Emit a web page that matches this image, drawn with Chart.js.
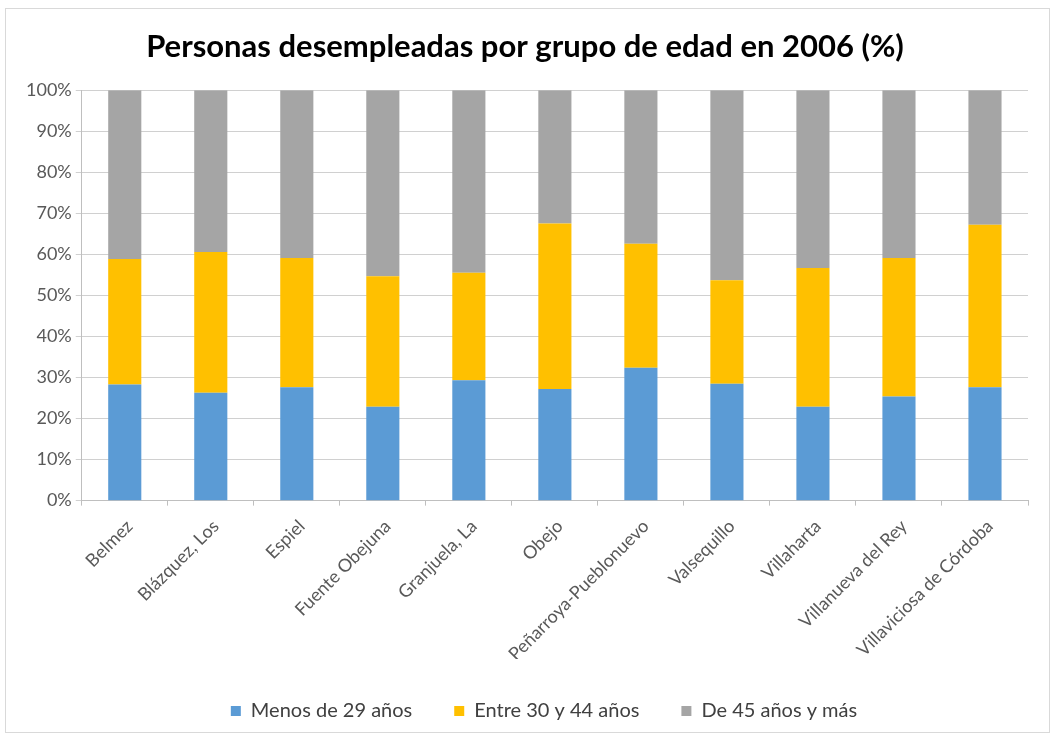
<!DOCTYPE html>
<html lang="es">
  <head>
    <meta charset="UTF-8" />
    <title>Personas desempleadas por grupo de edad en 2006</title>
  </head>
  <style>
    * {
      margin: 0;
      padding: 0;
    }
    body {
      background: white;
      width: 1057px;
      height: 737px;
      overflow: hidden;
    }
    .chartBox {
      position: absolute;
      left: 5px;
      top: 8px;
      width: 1043px;
      height: 723px;
      border: solid 1px #d9d9d9;
    }
  </style>
  <body>
    <div class="chartBox">
      <canvas id="myChart"></canvas>
    </div>

    <script src="https://cdn.jsdelivr.net/npm/chart.js"></script>

    <script>
      // data block
      const municipios = [
        "Belmez",
        "Blázquez, Los",
        "Espiel",
        "Fuente Obejuna",
        "Granjuela, La",
        "Obejo",
        "Peñarroya-Pueblonuevo",
        "Valsequillo",
        "Villaharta",
        "Villanueva del Rey",
        "Villaviciosa de Córdoba"
      ];
      const menos29 = [28.3, 26.3, 27.6, 22.9, 29.3, 27.2, 32.4, 28.5, 22.9, 25.4, 27.6];
      const entre30y44 = [30.6, 34.3, 31.5, 31.8, 26.2, 40.3, 30.2, 25.2, 33.8, 33.7, 39.6];
      const mas45 = [41.1, 39.4, 40.9, 45.3, 44.5, 32.5, 37.4, 46.3, 43.3, 40.9, 32.8];
      const yTicks = [0, 10, 20, 30, 40, 50, 60, 70, 80, 90, 100];

      Chart.defaults.font.family = "Lato, 'Open Sans', sans-serif";
      Chart.defaults.color = "#595959";

      const data = {
        labels: municipios,
        datasets: [
          { label: "Menos de 29 años", data: menos29, backgroundColor: "#5b9bd5" },
          { label: "Entre 30 y 44 años", data: entre30y44, backgroundColor: "#ffc000" },
          { label: "De 45 años y más", data: mas45, backgroundColor: "#a5a5a5" }
        ]
      };

      // the legend sits a bit right of centre in the original
      const legendShift = {
        id: "legendShift",
        afterLayout(chart) {
          chart.legend.left += 19;
          chart.legend.right += 19;
        }
      };

      // config block
      const config = {
        type: "bar",
        data,
        options: {
          responsive: true,
          maintainAspectRatio: false,
          animation: false,
          categoryPercentage: 1,
          barPercentage: 0.385,
          layout: { padding: { left: 16, right: 21, top: 8, bottom: 1 } },
          plugins: {
            title: {
              display: true,
              text: "Personas desempleadas por grupo de edad en 2006 (%)",
              color: "#000",
              font: { size: 31, weight: "bold" },
              padding: { top: 11, bottom: 25 }
            },
            legend: {
              position: "bottom",
              labels: {
                boxWidth: 10,
                boxHeight: 10,
                padding: 42,
                font: { size: 20 },
                color: "#404040"
              }
            },
            tooltip: { enabled: false }
          },
          scales: {
            x: {
              stacked: true,
              afterFit: (scale) => {
                scale.height -= 16;
              },
              grid: {
                drawOnChartArea: false,
                color: "#bfbfbf",
                tickLength: 5
              },
              border: { color: "#bfbfbf" },
              ticks: {
                minRotation: 45,
                maxRotation: 45,
                padding: 10,
                labelOffset: 5,
                font: { size: 18 },
                color: "#595959"
              }
            },
            y: {
              stacked: true,
              min: 0,
              max: 100,
              afterBuildTicks: (axis) => {
                axis.ticks = yTicks.map((v) => ({ value: v }));
              },
              grid: { color: "#d0d0d0", tickLength: 6 },
              border: { color: "#bfbfbf" },
              ticks: {
                callback: (v) => v + "%",
                font: { size: 18 },
                color: "#595959",
                padding: 4
              }
            }
          }
        },
        plugins: [legendShift]
      };

      // init render block
      const myChart = new Chart(document.getElementById("myChart"), config);
    </script>
  </body>
</html>
